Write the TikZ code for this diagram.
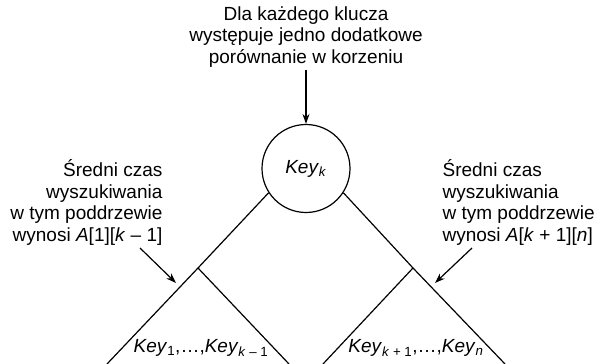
\documentclass[tikz,border=0pt]{standalone}
\usepackage{fontspec}
\setmainfont{Liberation Sans}
\usetikzlibrary{arrows.meta}

\begin{document}
\begin{tikzpicture}[x=1pt, y=-1pt, line width=1.2pt,
                    font=\fontsize{19}{21.7}\selectfont,
                    root/.style={draw, circle, minimum size=88pt, inner sep=0pt},
                    note/.style={inner sep=0pt},
                    pointer/.style={-{Stealth[length=10pt,width=7pt]}}]
  \useasboundingbox (0,0) rectangle (598,364);

  % root and the two subtrees under it
  \node[root] (root) at (306,168.5) {\textit{Key}\textsubscript{\textit{k}}};
  \coordinate (jl) at (198,268);
  \coordinate (jr) at (413,268);
  \coordinate (ll) at (107,364);
  \coordinate (lr) at (289,364);
  \coordinate (rl) at (323,364);
  \coordinate (rr) at (505,364);
  \draw (root.213) -- (jl) -- (ll);
  \draw (jl) -- (lr);
  \draw (root.327) -- (jr) -- (rr);
  \draw (jr) -- (rl);

  \node[note] (keysl) at (201,348)
    {\textit{Key}\textsubscript{1},…,\textit{Key}\textsubscript{\textit{k} – 1}};
  \node[note] (keysr) at (416,348)
    {\textit{Key}\textsubscript{\textit{k} + 1},…,\textit{Key}\textsubscript{\textit{n}}};

  % notes with their arrows
  \node[note, align=center] (top) at (306,37)
    {Dla każdego klucza\\występuje jedno dodatkowe\\porównanie w korzeniu};
  \node[note, align=right, anchor=east] (left) at (163,202.5)
    {Średni czas\\wyszukiwania\\w tym poddrzewie\\wynosi \textit{A}[1][\textit{k} – 1]};
  \node[note, align=left, anchor=west] (right) at (442,202.5)
    {Średni czas\\wyszukiwania\\w tym poddrzewie\\wynosi \textit{A}[\textit{k} + 1][\textit{n}]};

  \coordinate (tl) at (140,248);
  \coordinate (hl) at (176,283);
  \coordinate (tr) at (472,248);
  \coordinate (hr) at (435,283);
  \draw[pointer] (306,70) -- (root.north);
  \draw[pointer] (tl) -- (hl);
  \draw[pointer] (tr) -- (hr);
\end{tikzpicture}
\end{document}
